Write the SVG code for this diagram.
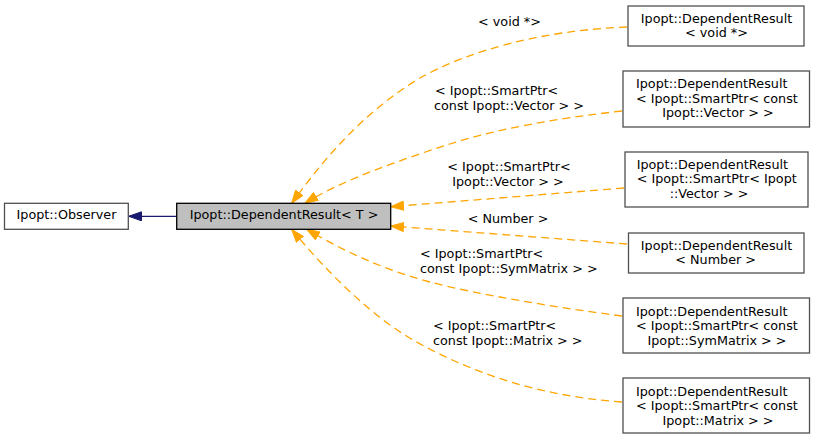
<svg xmlns="http://www.w3.org/2000/svg" width="815" height="439" viewBox="0 0 815 439">
<style>
text{font-family:"DejaVu Sans","Liberation Sans",sans-serif;font-size:12.75px;fill:#000}
.m{text-anchor:middle}
.s{text-anchor:start}
.box{fill:#fff;stroke:#505050;stroke-width:1.3}
.cur{fill:#bfbfbf;stroke:#000;stroke-width:1.3}
.dep{fill:none;stroke:#ffa500;stroke-width:1.3;stroke-dasharray:8,5;marker-end:url(#oa)}
.inh{fill:none;stroke:#191970;stroke-width:1.3;marker-end:url(#na)}
</style>
<defs>
<marker id="oa" markerUnits="userSpaceOnUse" viewBox="0 0 14 10" markerWidth="14" markerHeight="10" refX="13.3" refY="5" orient="auto">
<path d="M0.5,0.5 L13.3,5 L0.5,9.5 z" fill="#ffa500" stroke="#ffa500" stroke-width="1"/>
</marker>
<marker id="na" markerUnits="userSpaceOnUse" viewBox="0 0 14 10" markerWidth="14" markerHeight="10" refX="13.3" refY="5" orient="auto">
<path d="M0.5,0.5 L13.3,5 L0.5,9.5 z" fill="#191970" stroke="#191970" stroke-width="1"/>
</marker>
</defs>
<g id="connectors">
<path class="inh" d="M176.7,216.3 L128.7,216.3"/>
<path class="dep" d="M627,27 C545,30 470,50 420,78 C370,108 330,150 291.7,203.3"/>
<path class="dep" d="M622,111 C560,118 500,128 450,144 C400,160 340,181 305,203.3"/>
<path class="dep" d="M624,188 L390.7,206.7"/>
<path class="dep" d="M627,244 L390.7,226"/>
<path class="dep" d="M622,316 C560,308 480,295 430,282 C385,270 345,252 306.7,229.3"/>
<path class="dep" d="M622,402 C550,397 480,378 413,340 C370,315 325,270 291.7,229.3"/>
<text class="m" x="509.5" y="25.5">&lt; void *&gt;</text>
<text class="s" x="435" y="95">&lt; Ipopt::SmartPtr&lt;</text>
<text class="s" x="434" y="110">const Ipopt::Vector &gt; &gt;</text>
<text class="m" x="509" y="171">&lt; Ipopt::SmartPtr&lt;</text>
<text class="m" x="508" y="186">Ipopt::Vector &gt; &gt;</text>
<text class="m" x="508" y="223">&lt; Number &gt;</text>
<text class="s" x="420" y="258">&lt; Ipopt::SmartPtr&lt;</text>
<text class="s" x="420" y="272.5">const Ipopt::SymMatrix &gt; &gt;</text>
<text class="s" x="433" y="330">&lt; Ipopt::SmartPtr&lt;</text>
<text class="s" x="433" y="344.5">const Ipopt::Matrix &gt; &gt;</text>
</g>
<g id="observer">
<rect class="box" x="4.5" y="203.3" width="123.8" height="26"/>
<text class="m" x="66.5" y="219.3">Ipopt::Observer</text>
</g>
<g id="dependentresult_t">
<rect class="cur" x="176.7" y="203.3" width="214" height="26"/>
<text class="m" x="284" y="219.3">Ipopt::DependentResult&lt; T &gt;</text>
</g>
<g id="dr_void">
<rect class="box" x="628" y="6" width="176" height="40"/>
<text class="m" x="716.5" y="22.5">Ipopt::DependentResult</text>
<text class="m" x="716.5" y="37">&lt; void *&gt;</text>
</g>
<g id="dr_sp_const_vector">
<rect class="box" x="623" y="71" width="186.5" height="56"/>
<text class="s" x="636" y="88">Ipopt::DependentResult</text>
<text class="s" x="636" y="102.5">&lt; Ipopt::SmartPtr&lt; const</text>
<text class="m" x="718" y="117">Ipopt::Vector &gt; &gt;</text>
</g>
<g id="dr_sp_vector">
<rect class="box" x="625" y="152" width="183" height="55"/>
<text class="s" x="636.7" y="168.5">Ipopt::DependentResult</text>
<text class="s" x="636.7" y="183">&lt; Ipopt::SmartPtr&lt; Ipopt</text>
<text class="m" x="709" y="197.5">::Vector &gt; &gt;</text>
</g>
<g id="dr_number">
<rect class="box" x="628.5" y="233" width="175.5" height="40"/>
<text class="m" x="716.5" y="249.5">Ipopt::DependentResult</text>
<text class="m" x="715.7" y="264">&lt; Number &gt;</text>
</g>
<g id="dr_sp_const_symmatrix">
<rect class="box" x="623" y="298" width="186.5" height="55"/>
<text class="s" x="636" y="315.5">Ipopt::DependentResult</text>
<text class="s" x="636" y="330">&lt; Ipopt::SmartPtr&lt; const</text>
<text class="m" x="717" y="344.5">Ipopt::SymMatrix &gt; &gt;</text>
</g>
<g id="dr_sp_const_matrix">
<rect class="box" x="623" y="378" width="186.5" height="55"/>
<text class="s" x="636" y="395.5">Ipopt::DependentResult</text>
<text class="s" x="636" y="410">&lt; Ipopt::SmartPtr&lt; const</text>
<text class="m" x="718" y="424.5">Ipopt::Matrix &gt; &gt;</text>
</g>
</svg>
